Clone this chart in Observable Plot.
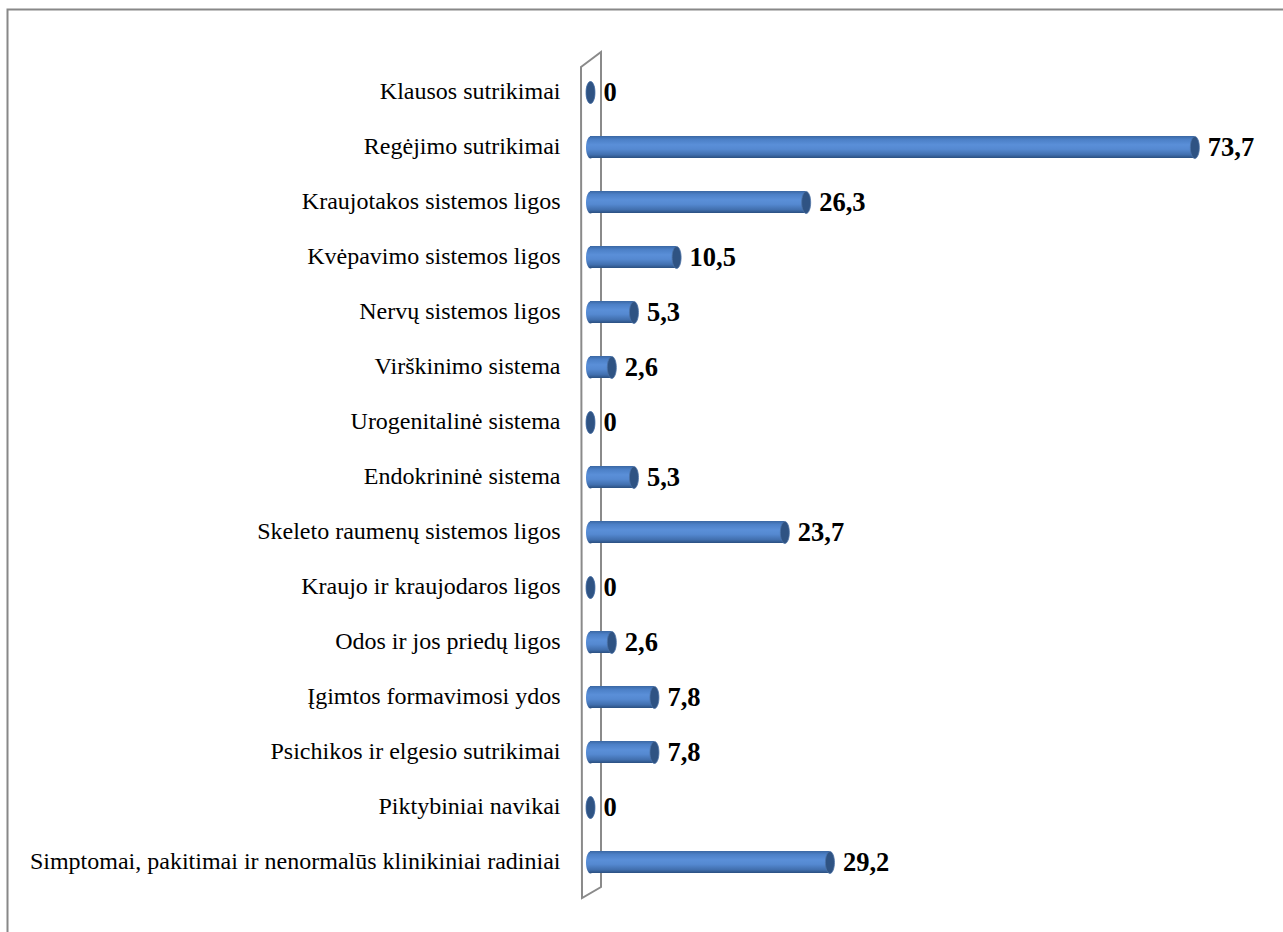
<!DOCTYPE html>
<html>
<head>
<meta charset="utf-8">
<script src="https://cdn.jsdelivr.net/npm/d3@7"></script>
<script src="https://cdn.jsdelivr.net/npm/@observablehq/plot@0.6"></script>
<style>
  html, body { margin: 0; padding: 0; background: #fff; overflow: hidden; }
  svg { display: block; }
</style>
</head>
<body>
<div id="chart"></div>
<script>
const categories = [
  "Klausos sutrikimai",
  "Regėjimo sutrikimai",
  "Kraujotakos sistemos ligos",
  "Kvėpavimo sistemos ligos",
  "Nervų sistemos ligos",
  "Virškinimo sistema",
  "Urogenitalinė sistema",
  "Endokrininė sistema",
  "Skeleto raumenų sistemos ligos",
  "Kraujo ir kraujodaros ligos",
  "Odos ir jos priedų ligos",
  "Įgimtos formavimosi ydos",
  "Psichikos ir elgesio sutrikimai",
  "Piktybiniai navikai",
  "Simptomai, pakitimai ir nenormalūs klinikiniai radiniai"
];
const values = [0, 73.7, 26.3, 10.5, 5.3, 2.6, 0, 5.3, 23.7, 0, 2.6, 7.8, 7.8, 0, 29.2];

const data = categories.map((c, i) => ({cat: c, value: values[i]}));
const fmt = v => v === 0 ? "0" : String(v).replace(".", ",");

// ellipse symbol for cylinder caps
const ellipse = (rx, ry) => ({
  draw(ctx) {
    const k = 0.5523;
    ctx.moveTo(-rx, 0);
    ctx.bezierCurveTo(-rx, -ry * k, -rx * k, -ry, 0, -ry);
    ctx.bezierCurveTo(rx * k, -ry, rx, -ry * k, rx, 0);
    ctx.bezierCurveTo(rx, ry * k, rx * k, ry, 0, ry);
    ctx.bezierCurveTo(-rx * k, ry, -rx, ry * k, -rx, 0);
    ctx.closePath();
  }
});

const defs = () => {
  const d = d3.create("svg:defs");
  const g = d.append("linearGradient").attr("id", "cyl")
    .attr("x1", 0).attr("y1", 0).attr("x2", 0).attr("y2", 1);
  [[0, "#3a67a3"], [0.15, "#4b7fc6"], [0.4, "#5a8fd8"], [0.6, "#5589d1"], [0.85, "#416fae"], [1, "#2a4f80"]]
    .forEach(([o, c]) => g.append("stop").attr("offset", o).attr("stop-color", c));
  return d.node();
};

const frame = (index, scales, values, dims) => {
  return d3.create("svg:rect")
    .attr("x", 7.5).attr("y", 9.5)
    .attr("width", dims.width + 50).attr("height", dims.height + 50)
    .attr("fill", "none").attr("stroke", "#888").attr("stroke-width", 2).node();
};

const wall = (index, scales, values, dims) => {
  const x0 = scales.x(0);
  const yT = dims.marginTop, yB = dims.height - dims.marginBottom;
  const pts = [[x0 - 9, yT + 21], [x0 + 11, yT + 6], [x0 + 11, yB - 21], [x0 - 8, yB - 10]];
  return d3.create("svg:path")
    .attr("d", "M" + pts.map(p => p.join(",")).join("L") + "Z")
    .attr("fill", "none").attr("stroke", "#8a8a8a").attr("stroke-width", 2).node();
};

const chart = Plot.plot({
  width: 1283,
  height: 932,
  marginLeft: 590,
  marginRight: 37,
  marginTop: 46,
  marginBottom: 24,
  style: {fontFamily: "'Liberation Serif', 'Times New Roman', serif", fontSize: "24px", color: "#000", background: "#fff"},
  x: {domain: [0, 80], axis: null},
  y: {domain: categories, padding: 0.6, label: null},
  marks: [
    defs,
    frame,
    wall,
    Plot.axisY({tickSize: 0, tickPadding: 30, fontSize: 24, dy: -1, label: null}),
    Plot.dot(data, {x: () => 0, y: "cat", symbol: ellipse(4.5, 11), r: 11, fill: "url(#cyl)", stroke: "none"}),
    Plot.barX(data, {x1: () => 0, x2: "value", y: "cat", fill: "url(#cyl)"}),
    Plot.dot(data, {x: "value", y: "cat", symbol: ellipse(4.5, 11), r: 11, fill: "#2f5383", stroke: "#4d72a6", strokeWidth: 0.8}),
    Plot.text(data, {x: "value", y: "cat", text: d => fmt(d.value), textAnchor: "start", dx: 13, dy: 0, fontSize: 26.5, fontWeight: "bold", fill: "#000"})
  ]
});
document.getElementById("chart").append(chart);
</script>
</body>
</html>
